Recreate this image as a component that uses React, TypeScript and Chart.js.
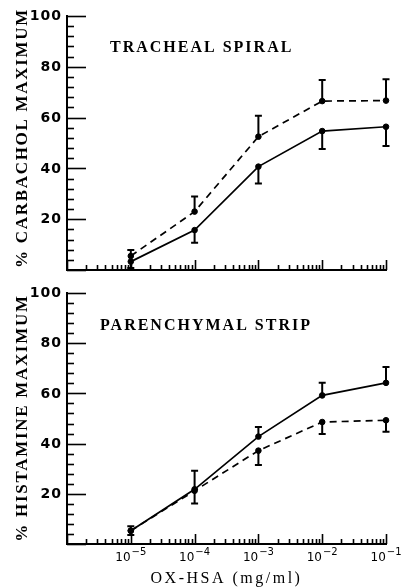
import React, { useEffect, useRef } from "react";
import { Chart, registerables } from "chart.js";

Chart.register(...registerables);

// ---- data ----
const doses = [1e-5, 1e-4, 1e-3, 1e-2, 1e-1];

const trachealSolid = [3.3, 15.7, 40.7, 54.7, 56.4];
const trachealSolidErrDown = [2.5, 5.0, 6.6, 7.1, 7.6];
const trachealDashed = [5.5, 23.0, 52.5, 66.5, 66.7];
const trachealDashedErrUp = [2.4, 5.9, 8.2, 8.3, 8.4];

const parenSolid = [5.3, 21.8, 42.8, 59.2, 64.2];
const parenSolidErrUp = [1.8, 7.4, 3.8, 5.0, 6.3];
const parenDashed = [5.3, 21.2, 37.2, 48.6, 49.3];
const parenDashedErrDown = [1.7, 5.1, 5.7, 4.8, 4.6];

const yLabelValues = [20, 40, 60, 80, 100];
const yMinorStep = 4;
const yMax = 100;
const decadeExponents = [-6, -5, -4, -3, -2, -1];
const minorMultipliers = [2, 3, 4, 5, 6, 7, 8, 9];
const xLabelExponents = [-5, -4, -3, -2, -1];

const yTickValues: number[] = [];
for (let v = 0; v <= yMax; v += yMinorStep) yTickValues.push(v);
const xTickValues: number[] = [];
decadeExponents.forEach((e, i) => {
  xTickValues.push(Number(`1e${e}`));
  if (i < decadeExponents.length - 1) {
    minorMultipliers.forEach((m) => xTickValues.push(Number(`${m}e${e}`)));
  }
});

type Panel = {
  title: string;
  titleX: number;
  titleBaseline: number;
  yTitle: string;
  yTitleCenter: number;
  solid: number[];
  solidErr: number[];
  solidDir: number;
  dashed: number[];
  dashedErr: number[];
  dashedDir: number;
  showXLabels: boolean;
  height: number;
  padTop: number;
  xHeight: number;
};

const panels: Panel[] = [
  {
    title: "TRACHEAL SPIRAL",
    titleX: 110,
    titleBaseline: 52,
    yTitle: "% CARBACHOL MAXIMUM",
    yTitleCenter: 138,
    solid: trachealSolid,
    solidErr: trachealSolidErrDown,
    solidDir: -1,
    dashed: trachealDashed,
    dashedErr: trachealDashedErrUp,
    dashedDir: 1,
    showXLabels: false,
    height: 282,
    padTop: 16,
    xHeight: 12,
  },
  {
    title: "PARENCHYMAL STRIP",
    titleX: 100,
    titleBaseline: 48,
    yTitle: "% HISTAMINE MAXIMUM",
    yTitleCenter: 136,
    solid: parenSolid,
    solidErr: parenSolidErrUp,
    solidDir: 1,
    dashed: parenDashed,
    dashedErr: parenDashedErrDown,
    dashedDir: -1,
    showXLabels: true,
    height: 306,
    padTop: 11,
    xHeight: 44,
  },
];

function isDecade(v: number) {
  const l = Math.log10(v);
  return Math.abs(l - Math.round(l)) < 1e-9;
}

function makePlugin(panel: Panel) {
  return {
    id: "panelDecor",
    afterDatasetsDraw(chart: any) {
      const ctx = chart.ctx;
      const ys = chart.scales.y;
      ctx.save();
      ctx.strokeStyle = "#000";
      ctx.lineWidth = 2;
      const sets = [
        { err: panel.solidErr, dir: panel.solidDir },
        { err: panel.dashedErr, dir: panel.dashedDir },
      ];
      sets.forEach((s, di) => {
        const meta = chart.getDatasetMeta(di);
        const ds = chart.data.datasets[di].data as any[];
        meta.data.forEach((pt: any, j: number) => {
          const v = ds[j].y + s.dir * s.err[j];
          const yEnd = ys.getPixelForValue(v);
          ctx.beginPath();
          ctx.moveTo(pt.x, pt.y);
          ctx.lineTo(pt.x, yEnd);
          ctx.moveTo(pt.x - 3.5, yEnd);
          ctx.lineTo(pt.x + 3.5, yEnd);
          ctx.stroke();
        });
      });
      ctx.restore();
    },
    afterDraw(chart: any) {
      const ctx = chart.ctx;
      const xs = chart.scales.x;
      const ys = chart.scales.y;
      const area = chart.chartArea;
      ctx.save();
      ctx.strokeStyle = "#000";
      ctx.fillStyle = "#000";
      ctx.lineWidth = 1.6;
      // y tick marks (inside)
      ys.ticks.forEach((t: any) => {
        const py = Math.round(ys.getPixelForValue(t.value)) + 0.5;
        const len = t.value % 20 === 0 ? 19 : 7;
        ctx.beginPath();
        ctx.moveTo(area.left, py);
        ctx.lineTo(area.left + len, py);
        ctx.stroke();
      });
      // x tick marks (inside)
      xs.ticks.forEach((t: any) => {
        const px = Math.round(xs.getPixelForValue(t.value)) + 0.5;
        const len = isDecade(t.value) ? 10 : 5;
        ctx.beginPath();
        ctx.moveTo(px, area.bottom);
        ctx.lineTo(px, area.bottom - len);
        ctx.stroke();
      });
      // y tick labels
      ctx.font = "bold 14px 'DejaVu Sans'";
      (ctx as any).letterSpacing = "1px";
      ctx.textAlign = "right";
      ctx.textBaseline = "middle";
      yLabelValues.forEach((v) => {
        const py = ys.getPixelForValue(v);
        ctx.fillText(String(v), area.left - 5, py + 0.5);
      });
      (ctx as any).letterSpacing = "0px";
      // x tick labels
      if (panel.showXLabels) {
        ctx.textAlign = "left";
        ctx.textBaseline = "alphabetic";
        xLabelExponents.forEach((e) => {
          const px = xs.getPixelForValue(Number(`1e${e}`));
          const base = "10";
          const sup = "\u2212" + String(Math.abs(e));
          ctx.font = "12px 'DejaVu Sans'";
          const w1 = ctx.measureText(base).width;
          ctx.font = "10px 'DejaVu Sans'";
          const w2 = ctx.measureText(sup).width;
          const start = px - (w1 + w2 + 1) / 2;
          ctx.font = "12px 'DejaVu Sans'";
          ctx.fillText(base, start, area.bottom + 17);
          ctx.font = "10px 'DejaVu Sans'";
          ctx.fillText(sup, start + w1 + 1, area.bottom + 11);
        });
        // x axis title
        ctx.font = "16px 'Liberation Serif'";
        (ctx as any).letterSpacing = "2.5px";
        ctx.textAlign = "center";
        ctx.fillText("OX-HSA (mg/ml)", (area.left + area.right) / 2, area.bottom + 39);
        (ctx as any).letterSpacing = "0px";
      }
      // panel title
      ctx.font = "bold 16px 'Liberation Serif'";
      (ctx as any).letterSpacing = "2px";
      ctx.textAlign = "left";
      ctx.textBaseline = "alphabetic";
      ctx.fillText(panel.title, panel.titleX, panel.titleBaseline);
      // y title (rotated)
      ctx.font = "bold 17px 'Liberation Serif'";
      (ctx as any).letterSpacing = "1.7px";
      ctx.translate(27, panel.yTitleCenter);
      ctx.rotate(-Math.PI / 2);
      ctx.textAlign = "center";
      ctx.fillText(panel.yTitle, 0, 0);
      ctx.restore();
    },
  };
}

function PanelChart({ panel }: { panel: Panel }) {
  const ref = useRef<HTMLCanvasElement | null>(null);
  useEffect(() => {
    if (!ref.current) return;
    const mk = (ys: number[], dashed: boolean) => ({
      data: doses.map((x, i) => ({ x, y: ys[i] })),
      borderColor: "#000",
      backgroundColor: "#000",
      borderWidth: 1.7,
      borderDash: dashed ? [7, 5] : [],
      pointRadius: 2.8,
      pointBorderWidth: 1,
      pointBackgroundColor: "#000",
      pointBorderColor: "#000",
      tension: 0,
      clip: false,
      fill: false,
    });
    const chart = new Chart(ref.current, {
      type: "line",
      data: { datasets: [mk(panel.solid, false), mk(panel.dashed, true)] as any },
      options: {
        animation: false,
        responsive: false,
        devicePixelRatio: 1,
        layout: { padding: { top: panel.padTop, right: 15, left: 0, bottom: 0 }, autoPadding: false } as any,
        plugins: { legend: { display: false }, tooltip: { enabled: false } },
        scales: {
          x: {
            type: "logarithmic",
            min: Number(`1e${decadeExponents[0]}`),
            max: Number(`1e${decadeExponents[decadeExponents.length - 1]}`),
            grid: { display: false },
            border: { display: true, color: "#000", width: 2 },
            ticks: { display: false },
            afterBuildTicks: (s: any) => {
              s.ticks = xTickValues.map((v) => ({ value: v }));
            },
            afterFit: (s: any) => {
              s.height = panel.xHeight;
            },
          },
          y: {
            type: "linear",
            min: 0,
            max: yMax,
            grid: { display: false },
            border: { display: true, color: "#000", width: 2 },
            ticks: { display: false },
            afterBuildTicks: (s: any) => {
              s.ticks = yTickValues.map((v) => ({ value: v }));
            },
            afterFit: (s: any) => {
              s.width = 67;
            },
          },
        },
      } as any,
      plugins: [makePlugin(panel)],
    });
    return () => chart.destroy();
  }, [panel]);
  return <canvas ref={ref} width={401} height={panel.height} style={{ display: "block" }} />;
}

export default function App() {
  return (
    <div style={{ position: "absolute", left: 0, top: 0, width: 401, height: 588, background: "#fff" }}>
      {panels.map((p, i) => (
        <PanelChart key={i} panel={p} />
      ))}
    </div>
  );
}
